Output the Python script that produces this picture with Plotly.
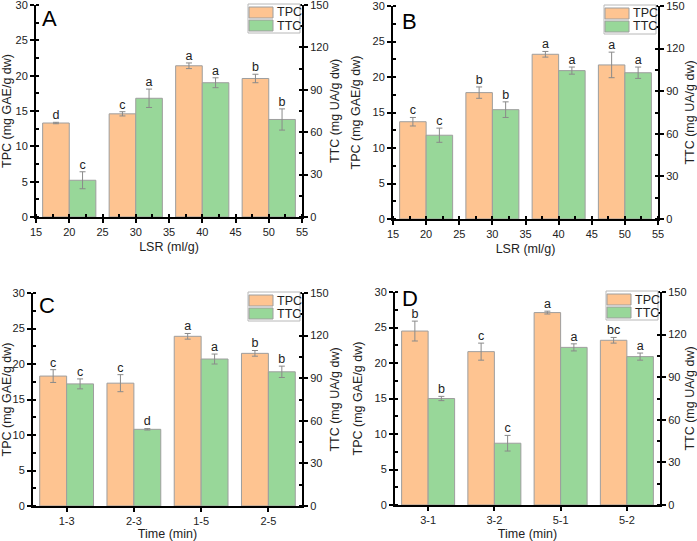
import plotly.graph_objects as go

# ---------------- data ----------------
lsr = [20, 30, 40, 50]
time_c = ["1-3", "2-3", "1-5", "2-5"]
time_d = ["3-1", "3-2", "5-1", "5-2"]
series_names = ["TPC", "TTC"]

tpc_a = [13.3, 14.6, 21.4, 19.6]
tpc_a_err = [0.1, 0.3, 0.4, 0.6]
ttc_a = [26, 84, 95, 69]
ttc_a_err = [6, 6.5, 3.5, 7.5]
tpc_a_lbl = ["d", "c", "a", "b"]
ttc_a_lbl = ["c", "a", "a", "b"]

tpc_b = [13.7, 17.8, 23.2, 21.7]
tpc_b_err = [0.6, 0.8, 0.4, 1.8]
ttc_b = [59, 77, 104.5, 103]
ttc_b_err = [5, 5.5, 2.5, 4]
tpc_b_lbl = ["c", "b", "a", "a"]
ttc_b_lbl = ["c", "b", "a", "a"]

tpc_c = [18.3, 17.3, 23.9, 21.5]
tpc_c_err = [0.9, 1.2, 0.4, 0.4]
ttc_c = [86, 54, 103.5, 94.5]
ttc_c_err = [3.5, 0.5, 3.5, 4]
tpc_c_lbl = ["c", "c", "a", "b"]
ttc_c_lbl = ["c", "d", "a", "b"]

tpc_d = [24.5, 21.6, 27.1, 23.2]
tpc_d_err = [1.4, 1.2, 0.2, 0.4]
ttc_d = [75, 43.5, 111, 104.5]
ttc_d_err = [1.5, 5.5, 2.5, 2.5]
tpc_d_lbl = ["b", "c", "a", "bc"]
ttc_d_lbl = ["b", "c", "a", "a"]

# ---------------- style ----------------
FONT = "Arial, Liberation Sans, sans-serif"
ORANGE = "#FEC491"
GREEN = "#98D799"
OUTLINE = "#9E9E9E"
ERR = "#8A8A8A"
TXT = "#222"

W, H = 697, 541
# plot-area boxes in pixels: (left, right, top, bottom)
boxes = [(36, 302, 5, 217), (393, 658, 6, 219), (33, 302, 293, 506), (395, 660, 292, 505)]
# panel-letter pixel nudges (xshift, yshift)
letter_nudge = [(-1, 1), (2, -1), (-1, 2), (0, 8)]

fig = go.Figure()

panels = [
    dict(letter="A", x=lsr, numeric=True, tpc=tpc_a, tpce=tpc_a_err, ttc=ttc_a, ttce=ttc_a_err,
         tl=tpc_a_lbl, cl=ttc_a_lbl, xt="LSR (ml/g)"),
    dict(letter="B", x=lsr, numeric=True, tpc=tpc_b, tpce=tpc_b_err, ttc=ttc_b, ttce=ttc_b_err,
         tl=tpc_b_lbl, cl=ttc_b_lbl, xt="LSR (ml/g)"),
    dict(letter="C", x=time_c, numeric=False, tpc=tpc_c, tpce=tpc_c_err, ttc=ttc_c, ttce=ttc_c_err,
         tl=tpc_c_lbl, cl=ttc_c_lbl, xt="Time (min)"),
    dict(letter="D", x=time_d, numeric=False, tpc=tpc_d, tpce=tpc_d_err, ttc=ttc_d, ttce=ttc_d_err,
         tl=tpc_d_lbl, cl=ttc_d_lbl, xt="Time (min)"),
]

axis_common = dict(showline=True, linecolor="black", linewidth=2, showgrid=False, zeroline=False,
                   ticks="outside", ticklen=4, tickwidth=1.5, tickcolor="black", automargin=False,
                   ticklabeloverflow="allow",
                   tickfont=dict(family=FONT, size=11, color=TXT))

shapes = []
annotations = []

for i, p in enumerate(panels):
    k = i + 1
    xa = "x" if k == 1 else f"x{k}"
    yl_n = 2 * i + 1
    yr_n = 2 * i + 2
    yl = "y" if yl_n == 1 else f"y{yl_n}"
    yr = f"y{yr_n}"

    if p["numeric"]:
        xpos = p["x"]
        w = 4
    else:
        xpos = list(range(len(p["x"])))
        w = 0.4
    tpc_x = [v - w / 2 for v in xpos]
    ttc_x = [v + w / 2 for v in xpos]

    fig.add_trace(go.Bar(x=xpos, y=p["tpc"], name=series_names[0], xaxis=xa, yaxis=yl, width=w, offset=-w,
                         marker=dict(color=ORANGE, line=dict(color=OUTLINE, width=1)),
                         error_y=dict(type="data", array=p["tpce"], color=ERR, thickness=1, width=3),
                         showlegend=False))
    fig.add_trace(go.Bar(x=xpos, y=p["ttc"], name=series_names[1], xaxis=xa, yaxis=yr, width=w, offset=0,
                         marker=dict(color=GREEN, line=dict(color=OUTLINE, width=1)),
                         error_y=dict(type="data", array=p["ttce"], color=ERR, thickness=1, width=3),
                         showlegend=False))
    fig.add_trace(go.Scatter(x=tpc_x, y=[v + e for v, e in zip(p["tpc"], p["tpce"])], text=p["tl"],
                             mode="text", textposition="top center", xaxis=xa, yaxis=yl,
                             textfont=dict(family=FONT, size=12.5, color=TXT), showlegend=False,
                             hoverinfo="skip"))
    fig.add_trace(go.Scatter(x=ttc_x, y=[v + e for v, e in zip(p["ttc"], p["ttce"])], text=p["cl"],
                             mode="text", textposition="top center", xaxis=xa, yaxis=yr,
                             textfont=dict(family=FONT, size=12.5, color=TXT), showlegend=False,
                             hoverinfo="skip"))

    l, r, t, b = boxes[i]
    xdom = [l / W, r / W]
    ydom = [1 - b / H, 1 - t / H]

    xkey = "xaxis" if k == 1 else f"xaxis{k}"
    ylkey = "yaxis" if yl_n == 1 else f"yaxis{yl_n}"
    yrkey = f"yaxis{yr_n}"

    xcfg = dict(axis_common, domain=xdom, anchor=yl,
                title=dict(text=p["xt"], font=dict(family=FONT, size=12.5, color=TXT), standoff=5))
    if p["numeric"]:
        xcfg.update(range=[15, 55], tickmode="linear", tick0=15, dtick=5,
                    minor=dict(ticks="inside", ticklen=3, tickwidth=1.5, tickcolor="black", dtick=2.5, tick0=15))
    else:
        xcfg.update(range=[-0.5, 3.5], tickmode="array", tickvals=xpos, ticktext=p["x"])
    fig.layout[xkey] = xcfg

    fig.layout[ylkey] = dict(axis_common, domain=ydom, anchor=xa, range=[0, 30], tickmode="linear",
                             tick0=0, dtick=5,
                             minor=dict(ticks="inside", ticklen=3, tickwidth=1.5, tickcolor="black", dtick=2.5),
                             title=dict(text="TPC (mg GAE/g dw)", font=dict(family=FONT, size=12.5, color=TXT),
                                        standoff=9))
    fig.layout[yrkey] = dict(axis_common, domain=ydom, anchor=xa, overlaying=yl, side="right",
                             range=[0, 150], tickmode="linear", tick0=0, dtick=30,
                             minor=dict(ticks="inside", ticklen=3, tickwidth=1.5, tickcolor="black", dtick=15),
                             title=dict(text="TTC (mg UA/g dw)", font=dict(family=FONT, size=12.5, color=TXT),
                                        standoff=3))

    # panel letter
    annotations.append(dict(text=p["letter"], xref=f"{xa} domain", yref=f"{yl} domain", x=0.02, y=1.0,
                            xanchor="left", yanchor="top", showarrow=False,
                            xshift=letter_nudge[i][0], yshift=letter_nudge[i][1],
                            font=dict(family=FONT, size=22, color="black")))

    # legend key (top-right inside the plot area), pixel offsets from corner
    def px(dx):
        return (r + dx) / W

    def py(dy):
        return 1 - (t + dy) / H

    shapes.append(dict(type="rect", xref="paper", yref="paper", x0=px(-54), x1=px(-2), y0=py(28), y1=py(-1),
                       line=dict(color="#B8B8B8", width=1), fillcolor="white", layer="above"))
    for j, (nm, col) in enumerate(zip(series_names, [ORANGE, GREEN])):
        y0 = 2 + 13 * j
        shapes.append(dict(type="rect", xref="paper", yref="paper", x0=px(-53), x1=px(-29),
                           y0=py(y0 + 11), y1=py(y0), line=dict(color=OUTLINE, width=1), fillcolor=col,
                           layer="above"))
        annotations.append(dict(text=nm, xref="paper", yref="paper", x=px(-27), y=py(y0 + 5.5),
                                xanchor="left", yanchor="middle", showarrow=False,
                                font=dict(family=FONT, size=12.5, color=TXT)))

fig.update_layout(width=W, height=H, margin=dict(l=0, r=0, t=0, b=0), barmode="overlay",
                  plot_bgcolor="white", paper_bgcolor="white", font=dict(family=FONT),
                  shapes=shapes, annotations=annotations, showlegend=False)

fig.write_html("out.html", config={"displayModeBar": False},
               post_script="document.body.style.margin='0';document.body.style.overflow='hidden';")
